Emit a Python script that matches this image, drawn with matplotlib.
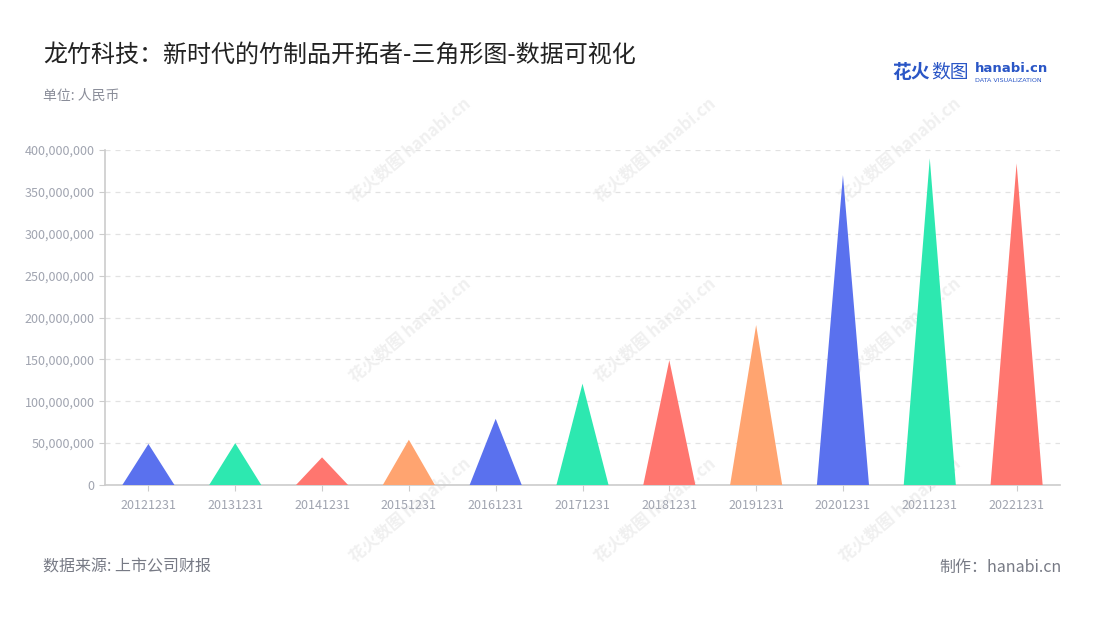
import matplotlib
matplotlib.use("Agg")
import matplotlib.pyplot as plt
from matplotlib.ticker import FuncFormatter

plt.rcParams["font.family"] = ["Noto Sans CJK SC", "DejaVu Sans"]

# data
dates = ["20121231", "20131231", "20141231", "20151231", "20161231", "20171231",
         "20181231", "20191231", "20201231", "20211231", "20221231"]
values = [49e6, 50e6, 33e6, 54e6, 79e6, 121e6, 149e6, 191e6, 370e6, 390e6, 384e6]
palette = ["#5a71ee", "#2de8b0", "#ff766f", "#ffa470"]

fig = plt.figure(figsize=(11, 6.2), dpi=100)
ax = fig.add_axes([105 / 1100, 1 - 485 / 620, 955 / 1100, 335 / 620])
ax.set_zorder(1)
ax.patch.set_alpha(0)

half = 0.3
for i, v in enumerate(values):
    ax.fill([i - half, i, i + half], [0, v, 0], color=palette[i % 4], lw=0, zorder=3)

ax.set_xlim(-0.5, len(dates) - 0.5)
ax.set_ylim(0, 400e6)
ax.set_xticks(range(len(dates)))
ax.set_xticklabels(dates)
ax.set_yticks([i * 50e6 for i in range(9)])
ax.yaxis.set_major_formatter(FuncFormatter(lambda v, p: f"{int(v):,}"))
ax.tick_params(axis="both", colors="#cccccc", labelcolor="#a0a4b0", labelsize=9, length=4)
ax.tick_params(axis="x", pad=6)
ax.grid(axis="y", color="#e2e2e2", linestyle=(0, (4, 4)), lw=0.9, zorder=0)
for s in ["top", "right"]:
    ax.spines[s].set_visible(False)
for s in ["left", "bottom"]:
    ax.spines[s].set_color("#cccccc")
    ax.spines[s].set_linewidth(1.2)

# watermarks (behind the chart)
for wx in [410, 655, 900]:
    for wy in [150, 330, 510]:
        fig.text(wx / 1100, 1 - wy / 620, "花火数图 hanabi.cn", rotation=40, fontsize=12,
                 color="#f0f0f0", ha="center", va="center", zorder=0, fontweight="bold")

fig.text(43 / 1100, 1 - 55 / 620, "龙竹科技：新时代的竹制品开拓者-三角形图-数据可视化",
         fontsize=17.3, color="#222222", va="center")
fig.text(43 / 1100, 1 - 96 / 620, "单位: 人民币", fontsize=10, color="#8a8d99", va="center")
fig.text(43 / 1100, 1 - 567 / 620, "数据来源: 上市公司财报", fontsize=11.5, color="#777a85", va="center")
fig.text(1062 / 1100, 1 - 567 / 620, "制作：hanabi.cn", fontsize=11.5, color="#777a85",
         va="center", ha="right")

# logo
fig.text(892 / 1100, 1 - 72 / 620, "花火", fontsize=13.5, color="#2a56c6", fontweight="bold", va="center")
fig.text(931 / 1100, 1 - 72 / 620, "数图", fontsize=13.5, color="#2a56c6", va="center")
fig.text(975 / 1100, 1 - 69 / 620, "hanabi.cn", fontsize=9.5, color="#2a56c6", fontweight="bold",
         va="center", family=["DejaVu Sans"])
fig.text(975 / 1100, 1 - 80 / 620, "DATA VISUALIZATION", fontsize=4.6, color="#2a56c6", va="center",
         family=["DejaVu Sans"])

fig.savefig("out.png", dpi=100)
